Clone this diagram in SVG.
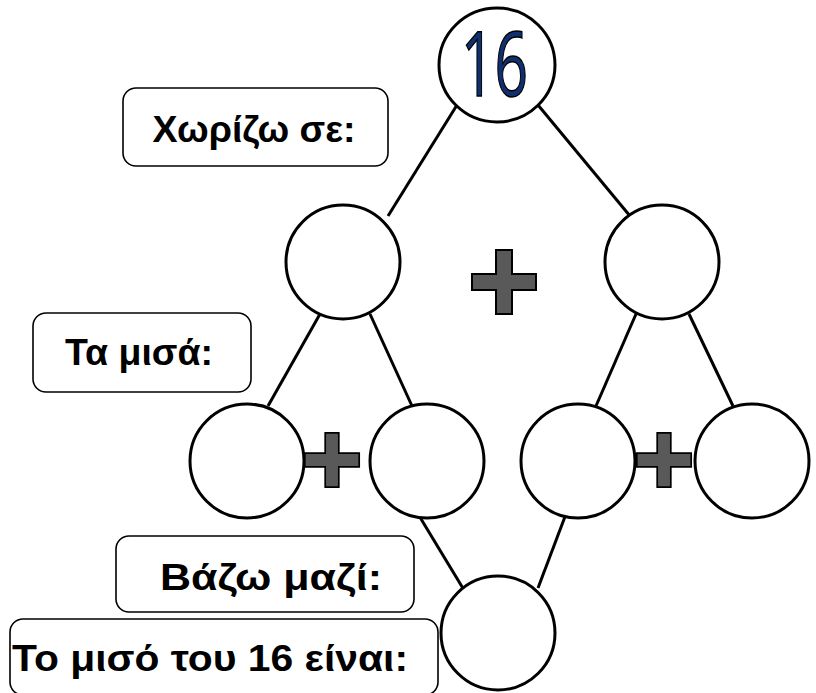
<svg xmlns="http://www.w3.org/2000/svg" width="816" height="693" viewBox="0 0 816 693">
<style>
.c{fill:#fff;stroke:#000;stroke-width:3}
.e{stroke:#000;stroke-width:3;fill:none}
.b{fill:#fff;stroke:#000;stroke-width:1.6}
.t{font-family:"Comic Sans MS","Liberation Sans","DejaVu Sans",sans-serif;font-weight:bold;font-size:36px;fill:#000;text-anchor:middle}
.p{fill:#595959;stroke:#000;stroke-width:2}
</style>
<defs>
<path id="plus" d="M-8,-32 H8 V-8 H32 V8 H8 V32 H-8 V8 H-32 V-8 H-8 Z"/>
</defs>
<rect width="816" height="693" fill="#fff"/>
<g id="connectors">
<line class="e" x1="457" y1="105" x2="388" y2="216"/>
<line class="e" x1="538" y1="105" x2="630" y2="216"/>
<line class="e" x1="320" y1="314" x2="268" y2="406"/>
<line class="e" x1="370" y1="314" x2="412" y2="406"/>
<line class="e" x1="636" y1="314" x2="596" y2="406"/>
<line class="e" x1="689" y1="314" x2="733" y2="406"/>
<line class="e" x1="418" y1="514" x2="464" y2="590"/>
<line class="e" x1="566" y1="514" x2="538" y2="588"/>
</g>
<g id="n16">
<ellipse class="c" cx="497" cy="65" rx="58" ry="57"/>
<text x="494.5" y="96" font-family="'Open Sans','Liberation Sans',sans-serif" font-size="90" font-weight="400" fill="#0f2f6f" stroke="#000" stroke-width="1.5" text-anchor="middle" textLength="67" lengthAdjust="spacingAndGlyphs">16</text>
</g>
<g id="l1a"><circle class="c" cx="343" cy="262" r="57"/></g>
<g id="l1b"><circle class="c" cx="662" cy="262" r="57"/></g>
<g id="plus1"><use href="#plus" class="p" transform="translate(504,282)"/></g>
<g id="l2a"><circle class="c" cx="247" cy="461" r="57"/></g>
<g id="l2b"><circle class="c" cx="427" cy="461" r="57"/></g>
<g id="l2c"><circle class="c" cx="578" cy="461" r="57"/></g>
<g id="l2d"><circle class="c" cx="752" cy="461" r="57"/></g>
<g id="plus2"><use href="#plus" class="p" transform="translate(332,460) scale(0.85)"/></g>
<g id="plus3"><use href="#plus" class="p" transform="translate(664,460) scale(0.85)"/></g>
<g id="bottom"><circle class="c" cx="498" cy="633" r="57"/></g>
<g id="box1">
<rect class="b" x="123" y="88" width="265" height="78" rx="13"/>
<text class="t" x="254" y="142" textLength="203" lengthAdjust="spacingAndGlyphs">Χωρίζω σε:</text>
</g>
<g id="box2">
<rect class="b" x="33" y="313" width="218" height="79" rx="13"/>
<text class="t" x="139" y="365" textLength="148" lengthAdjust="spacingAndGlyphs">Τα μισά:</text>
</g>
<g id="box3">
<rect class="b" x="116" y="536" width="298" height="76" rx="13"/>
<text class="t" x="271" y="590" textLength="222" lengthAdjust="spacingAndGlyphs">Βάζω μαζί:</text>
</g>
<g id="box4">
<rect class="b" x="10" y="619" width="428" height="76" rx="13"/>
<text class="t" x="210" y="671" textLength="396" lengthAdjust="spacingAndGlyphs">Το μισό του 16 είναι:</text>
</g>
</svg>
